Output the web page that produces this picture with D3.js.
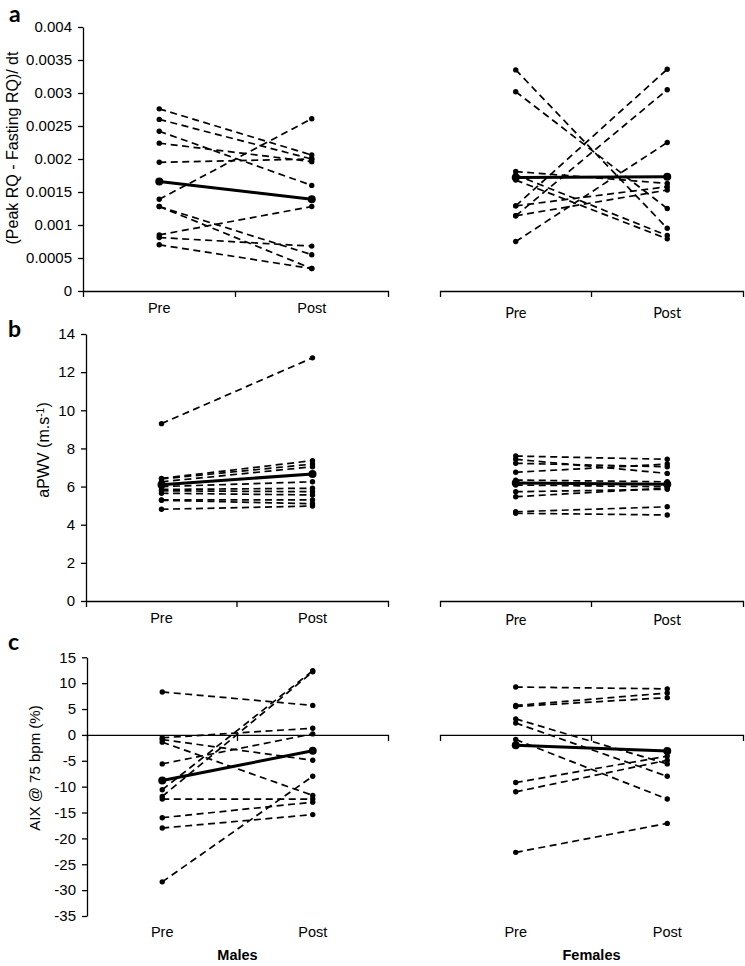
<!DOCTYPE html>
<html>
<head>
<meta charset="utf-8">
<script src="https://cdn.jsdelivr.net/npm/d3@7"></script>
<style>
  html, body { margin: 0; padding: 0; background: #fff; }
  svg { display: block; }
</style>
</head>
<body>
<script>
// ---------------- data ----------------
const phases = ["Pre", "Post"];
const groups = ["Males", "Females"];

// panel a : (Peak RQ - Fasting RQ)/dt
const rqTicks = [0, 0.0005, 0.001, 0.0015, 0.002, 0.0025, 0.003, 0.0035, 0.004];
const rqTickLabels = ["0", "0.0005", "0.001", "0.0015", "0.002", "0.0025", "0.003", "0.0035", "0.004"];
const rqMalesPre    = [0.00276, 0.00260, 0.00242, 0.00224, 0.00195, 0.00139, 0.00128, 0.00128, 0.00085, 0.00081, 0.00070];
const rqMalesPost   = [0.00206, 0.00200, 0.00160, 0.00196, 0.00200, 0.00261, 0.00055, 0.00034, 0.00128, 0.00068, 0.00034];
const rqMalesMean   = [0.00166, 0.00139];
const rqFemalesPre  = [0.00335, 0.00302, 0.00181, 0.00176, 0.00168, 0.00129, 0.00114, 0.00129, 0.00114, 0.00075];
const rqFemalesPost = [0.00095, 0.00125, 0.00163, 0.00084, 0.00079, 0.00336, 0.00305, 0.00158, 0.00153, 0.00225];
const rqFemalesMean = [0.00172, 0.00173];

// panel b : aPWV (m.s-1)
const pwvTicks = [0, 2, 4, 6, 8, 10, 12, 14];
const pwvMalesPre    = [9.30, 6.43, 6.40, 6.25, 6.00, 5.85, 5.78, 5.65, 5.30, 5.28, 4.81];
const pwvMalesPost   = [12.75, 7.36, 7.18, 7.04, 6.25, 5.91, 5.73, 5.56, 5.30, 5.10, 4.98];
const pwvMalesMean   = [6.10, 6.66];
const pwvFemalesPre  = [7.60, 7.43, 7.22, 6.75, 6.34, 6.08, 5.73, 5.47, 4.68, 4.60];
const pwvFemalesPost = [7.43, 6.69, 7.04, 7.18, 6.25, 5.99, 5.86, 5.92, 4.94, 4.51];
const pwvFemalesMean = [6.19, 6.12];

// panel c : AIX @ 75 bpm (%)
const aixTicks = [15, 10, 5, 0, -5, -10, -15, -20, -25, -30, -35];
const aixMalesPre    = [8.3, -0.55, -0.9, -1.4, -5.6, -10.6, -11.9, -12.4, -16.0, -18.0, -28.4];
const aixMalesPost   = [5.7, 1.3, -4.9, -11.7, 0.2, 12.4, 12.2, -12.4, -13.0, -15.4, -8.0];
const aixMalesMean   = [-8.8, -3.05];
const aixFemalesPre  = [9.25, 5.7, 5.5, 3.1, 2.3, -0.9, -9.2, -11.0, -22.7];
const aixFemalesPost = [8.9, 8.1, 7.2, -5.6, -8.0, -12.4, -4.1, -4.9, -17.1];
const aixFemalesMean = [-2.0, -3.1];

// ---------------- drawing ----------------
const W = 745, H = 966;
const svg = d3.select("body").append("svg").attr("width", W).attr("height", H);

const ARIAL = "'Liberation Sans', Arial, sans-serif";
const CALI = "Lato, 'Open Sans', sans-serif";

function drawGroup(g, xs, y, pre, post, mean) {
  const cx = p => xs(p) + xs.bandwidth() / 2;
  const subjects = pre.map((v, i) => [v, post[i]]);
  const line = d3.line().x((d, i) => cx(phases[i])).y(d => y(d));
  g.selectAll("path.subj").data(subjects).join("path")
    .attr("class", "subj")
    .attr("d", line)
    .attr("fill", "none")
    .attr("stroke", "#000")
    .attr("stroke-width", 1.7)
    .attr("stroke-dasharray", "7,4.5");
  const pts = subjects.flatMap(s => s.map((v, i) => ({ p: phases[i], v })));
  g.selectAll("circle.subj").data(pts).join("circle")
    .attr("class", "subj")
    .attr("cx", d => cx(d.p)).attr("cy", d => y(d.v)).attr("r", 2.7)
    .attr("fill", "#000");
  g.append("path").datum(mean)
    .attr("d", line).attr("fill", "none")
    .attr("stroke", "#000").attr("stroke-width", 3);
  g.selectAll("circle.mean").data(mean.map((v, i) => ({ p: phases[i], v }))).join("circle")
    .attr("class", "mean")
    .attr("cx", d => cx(d.p)).attr("cy", d => y(d.v)).attr("r", 4)
    .attr("fill", "#000");
}

function xAxis(g, xs, yPos, labelY, font, size, showLabels) {
  const ax = d3.axisBottom(xs).tickSizeInner(0).tickSizeOuter(6);
  const a = g.append("g").attr("transform", `translate(0,${yPos})`).call(ax);
  a.select(".domain").attr("stroke", "#000").attr("stroke-width", 1.3);
  a.append("line").attr("x1", xs("Post")).attr("x2", xs("Post"))
    .attr("y1", 0).attr("y2", 6).attr("stroke", "#000").attr("stroke-width", 1.3);
  a.selectAll(".tick text").remove();
  if (showLabels) {
    g.selectAll(null).data(phases).join("text")
      .attr("x", d => xs(d) + xs.bandwidth() / 2)
      .attr("y", labelY)
      .attr("text-anchor", "middle")
      .attr("font-family", font).attr("font-size", size)
      .attr("fill", "#000")
      .text(d => d);
  }
}

function yAxis(g, y, x, ticks, fmt) {
  const ax = d3.axisLeft(y).tickValues(ticks).tickSizeInner(5).tickSizeOuter(0).tickPadding(6).tickFormat(fmt);
  const a = g.append("g").attr("transform", `translate(${x},0)`).call(ax);
  a.select(".domain").attr("stroke", "#000").attr("stroke-width", 1.3);
  a.selectAll(".tick line").attr("stroke", "#000").attr("stroke-width", 1.3);
  a.selectAll(".tick text").attr("font-family", ARIAL).attr("font-size", 15).attr("fill", "#000");
}

function panelLetter(t, x, yb) {
  svg.append("text").attr("x", x).attr("y", yb)
    .attr("font-family", CALI).attr("font-weight", "bold").attr("font-size", 23)
    .attr("fill", "#000").text(t);
}

function yTitle(parts, cx, cy, size) {
  const t = svg.append("text").attr("transform", `translate(${cx},${cy}) rotate(-90)`)
    .attr("text-anchor", "middle").attr("font-family", ARIAL).attr("font-size", size).attr("fill", "#000");
  parts.forEach(p => {
    const s = t.append("tspan").text(p.t);
    if (p.sup) s.attr("font-size", size * 0.65).attr("baseline-shift", "super");
  });
}

const rightRange = [440, 743];

// ---- panel a ----
{
  const y = d3.scaleLinear().domain([0, 0.004]).range([291, 27]);
  const xsL = d3.scaleBand().domain(phases).range([83, 388]).padding(0);
  const xsR = d3.scaleBand().domain(phases).range(rightRange).padding(0);
  const g = svg.append("g");
  yAxis(g, y, 83, rqTicks, (d, i) => rqTickLabels[i]);
  xAxis(g, xsL, y(0), 313, ARIAL, 14.5, true);
  xAxis(g, xsR, y(0), 318, CALI, 14.5, true);
  drawGroup(g.append("g"), xsL, y, rqMalesPre, rqMalesPost, rqMalesMean);
  drawGroup(g.append("g"), xsR, y, rqFemalesPre, rqFemalesPost, rqFemalesMean);
  panelLetter("a", 9, 22);
  yTitle([{ t: "(Peak RQ - Fasting RQ)/ dt" }], 18, 148, 16);
}

// ---- panel b ----
{
  const y = d3.scaleLinear().domain([0, 14]).range([601, 334]);
  const xsL = d3.scaleBand().domain(phases).range([86, 388]).padding(0);
  const xsR = d3.scaleBand().domain(phases).range(rightRange).padding(0);
  const g = svg.append("g");
  yAxis(g, y, 86, pwvTicks, d => d);
  xAxis(g, xsL, y(0), 623, ARIAL, 14.5, true);
  xAxis(g, xsR, y(0), 625, CALI, 14.5, true);
  drawGroup(g.append("g"), xsL, y, pwvMalesPre, pwvMalesPost, pwvMalesMean);
  drawGroup(g.append("g"), xsR, y, pwvFemalesPre, pwvFemalesPost, pwvFemalesMean);
  panelLetter("b", 8, 337);
  yTitle([{ t: "aPWV (m.s" }, { t: "-1", sup: true }, { t: ")" }], 49, 450, 16);
}

// ---- panel c ----
{
  const y = d3.scaleLinear().domain([-35, 15]).range([916, 657.3]);
  const xsL = d3.scaleBand().domain(phases).range([87, 388]).padding(0);
  const xsR = d3.scaleBand().domain(phases).range(rightRange).padding(0);
  const g = svg.append("g");
  yAxis(g, y, 87, aixTicks, d => d);
  xAxis(g, xsL, y(0), 937, ARIAL, 14.5, true);
  xAxis(g, xsR, y(0), 937, ARIAL, 14.5, true);
  drawGroup(g.append("g"), xsL, y, aixMalesPre, aixMalesPost, aixMalesMean);
  drawGroup(g.append("g"), xsR, y, aixFemalesPre, aixFemalesPost, aixFemalesMean);
  panelLetter("c", 8, 650);
  yTitle([{ t: "AIX @ 75 bpm (%)" }], 40, 768, 15);
  const gx = d3.scaleOrdinal().domain(groups).range([(87 + 388) / 2, (rightRange[0] + rightRange[1]) / 2]);
  svg.selectAll("text.grp").data(groups).join("text")
    .attr("class", "grp")
    .attr("x", d => gx(d)).attr("y", 960)
    .attr("text-anchor", "middle")
    .attr("font-family", ARIAL).attr("font-weight", "bold").attr("font-size", 14.5)
    .attr("fill", "#000").text(d => d);
}
</script>
</body>
</html>
